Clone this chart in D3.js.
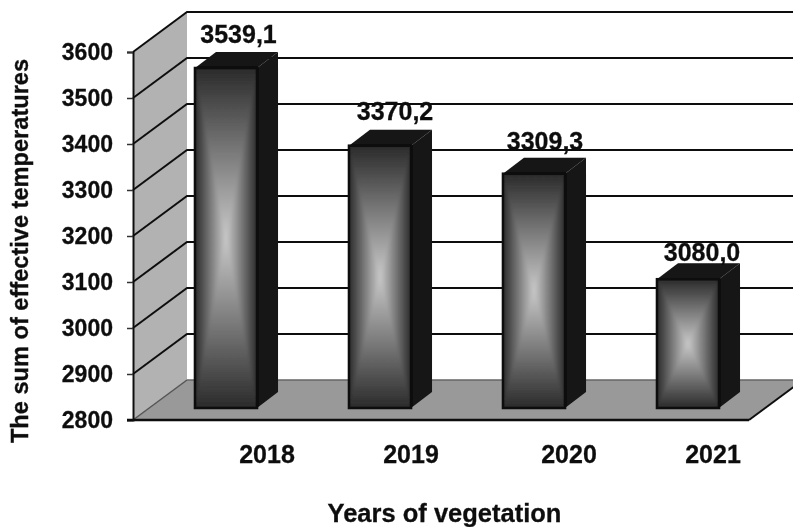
<!DOCTYPE html>
<html>
<head>
<meta charset="utf-8">
<script src="https://cdn.jsdelivr.net/npm/d3@7"></script>
<style>
  html, body { margin: 0; background: #fff; }
  text { font-family: "Liberation Sans", Arial, sans-serif; font-weight: bold; fill: #111; stroke: #111; stroke-width: 0.3px; }
</style>
</head>
<body>
<div id="chart"></div>
<script>
const years = ['2018', '2019', '2020', '2021'];
const temps = [3539.1, 3370.2, 3309.3, 3080.0];
const valueLabels = ['3539,1', '3370,2', '3309,3', '3080,0'];
const yTicks = [2800, 2900, 3000, 3100, 3200, 3300, 3400, 3500, 3600];

const width = 793;
const height = 527;
const wallDx = 54, wallDy = -40;   // depth of the 3d box
const barDx = 16, barDy = -12;     // bars stand this far back from the front edge
const sideDx = 21, sideDy = -16;   // depth of one bar
const labelNudge = [57, 47, 51, 41]; // year labels are not centred on bars in the original
const valueNudgeX = [12.5, 15, 11, 14];
const valueLift = [9, 10, 8, 2];

const x = d3.scaleBand().domain(years).range([133, 749]).paddingInner(0.597).paddingOuter(0.2985);
const y = d3.scaleLinear().domain([2800, 3600]).range([420, 52]);

const svg = d3.select('#chart').append('svg')
  .attr('width', width)
  .attr('height', height)
  .style('display', 'block');

const defs = svg.append('defs');
defs.append('filter').attr('id', 'soft')
  .append('feGaussianBlur').attr('stdDeviation', 0.45);
defs.append('filter').attr('id', 'faceBlur')
  .attr('x', '-20%').attr('y', '-20%').attr('width', '140%').attr('height', '140%')
  .append('feGaussianBlur').attr('stdDeviation', 1.6);

// one gradient per direction, dark edge to light middle
[['gT', 0, 0, 0, 1], ['gB', 0, 1, 0, 0], ['gL', 0, 0, 1, 0], ['gR', 1, 0, 0, 0]].forEach(g => {
  const lg = defs.append('linearGradient').attr('id', g[0])
    .attr('x1', g[1]).attr('y1', g[2]).attr('x2', g[3]).attr('y2', g[4]);
  lg.append('stop').attr('offset', 0).attr('stop-color', '#2a2a2a');
  lg.append('stop').attr('offset', 0.5).attr('stop-color', '#7a7a7a');
  lg.append('stop').attr('offset', 1).attr('stop-color', '#c8c8c8');
});

const root = svg.append('g').attr('filter', 'url(#soft)');

const poly = pts => pts.map(p => p.join(',')).join(' ');

// side wall
root.append('polygon')
  .attr('points', poly([[x.range()[0], y(2800)], [x.range()[0] + wallDx, y(2800) + wallDy],
    [x.range()[0] + wallDx, y(3600) + wallDy], [x.range()[0], y(3600)]]))
  .attr('fill', '#b2b2b2');

// floor
root.append('polygon')
  .attr('points', poly([[x.range()[0], y(2800)], [x.range()[1], y(2800)],
    [x.range()[1] + wallDx, y(2800) + wallDy], [x.range()[0] + wallDx, y(2800) + wallDy]]))
  .attr('fill', '#999999');

// grid lines running along the wall and the back
root.selectAll('.grid')
  .data(yTicks.slice(1))
  .enter()
  .append('polyline')
  .attr('class', 'grid')
  .attr('points', d => poly([[x.range()[0], y(d)], [x.range()[0] + wallDx, y(d) + wallDy],
    [x.range()[1] + wallDx, y(d) + wallDy]]))
  .attr('fill', 'none')
  .attr('stroke', '#111')
  .attr('stroke-width', 2);

// floor edges
root.append('polyline')
  .attr('points', poly([[x.range()[0], y(2800)], [x.range()[0] + wallDx, y(2800) + wallDy]]))
  .attr('fill', 'none').attr('stroke', '#555').attr('stroke-width', 1.5);
root.append('polyline')
  .attr('points', poly([[x.range()[0] + wallDx, y(2800) + wallDy], [x.range()[1] + wallDx, y(2800) + wallDy]]))
  .attr('fill', 'none').attr('stroke', '#666').attr('stroke-width', 1.5);
root.append('polyline')
  .attr('points', poly([[x.range()[1], y(2800)], [x.range()[1] + wallDx, y(2800) + wallDy]]))
  .attr('fill', 'none').attr('stroke', '#111').attr('stroke-width', 2);

// y axis
const yAxis = root.append('g')
  .attr('transform', `translate(${x.range()[0]},0)`)
  .call(d3.axisLeft(y).tickValues(yTicks).tickSize(6).tickPadding(14).tickFormat(d3.format('d')));
yAxis.select('.domain').attr('stroke', '#111').attr('stroke-width', 2);
yAxis.selectAll('line').attr('stroke', '#333').attr('stroke-width', 1.5);
yAxis.selectAll('text').style('font-size', '23px');

// x axis
const xAxis = root.append('g')
  .attr('transform', `translate(0,${y(2800)})`)
  .call(d3.axisBottom(x).tickSize(0).tickPadding(25));
xAxis.select('.domain').remove();
xAxis.selectAll('line').remove();
xAxis.selectAll('text')
  .attr('dx', (d, i) => labelNudge[i])
  .style('font-size', '25px');
root.append('line')
  .attr('x1', x.range()[0] - 6).attr('x2', x.range()[1])
  .attr('y1', y(2800)).attr('y2', y(2800))
  .attr('stroke', '#111').attr('stroke-width', 2.5);

// bars
root.selectAll('.bar')
  .data(years)
  .enter()
  .append('g')
  .attr('class', 'bar')
  .each(function (d, i) {
    const g = d3.select(this);
    const l = x(d) + barDx;
    const r = l + x.bandwidth();
    const t = y(temps[i]) + barDy;
    const b = y(2800) + barDy;
    const mx = (l + r) / 2;
    const my = (t + b) / 2;

    // right side and top of the box
    g.append('polygon')
      .attr('points', poly([[r, t], [r + sideDx, t + sideDy], [r + sideDx, b + sideDy], [r, b]]))
      .attr('fill', '#161616');
    g.append('polygon')
      .attr('points', poly([[l, t], [l + sideDx, t + sideDy], [r + sideDx, t + sideDy], [r, t]]))
      .attr('fill', '#141414');

    // front face, four triangles meeting at the middle, blurred so no seams show
    defs.append('clipPath').attr('id', 'face' + i)
      .append('rect').attr('x', l).attr('y', t).attr('width', x.bandwidth()).attr('height', b - t);
    g.append('rect')
      .attr('x', l).attr('y', t)
      .attr('width', x.bandwidth()).attr('height', b - t)
      .attr('fill', '#262626');
    const face = g.append('g').attr('clip-path', `url(#face${i})`)
      .append('g').attr('filter', 'url(#faceBlur)');
    [['gT', [[l, t], [r, t], [mx, my]]], ['gB', [[l, b], [r, b], [mx, my]]],
     ['gL', [[l, t], [l, b], [mx, my]]], ['gR', [[r, t], [r, b], [mx, my]]]].forEach(tri => {
      face.append('polygon')
        .attr('points', poly(tri[1]))
        .attr('fill', `url(#${tri[0]})`)
        .attr('stroke', `url(#${tri[0]})`)
        .attr('stroke-width', 1);
    });
    g.append('rect')
      .attr('x', l).attr('y', t)
      .attr('width', x.bandwidth()).attr('height', b - t)
      .attr('fill', 'none').attr('stroke', '#0a0a0a').attr('stroke-width', 2.5);
  });

// value labels
root.selectAll('.val')
  .data(valueLabels)
  .enter()
  .append('text')
  .attr('class', 'val')
  .attr('x', (d, i) => x(years[i]) + barDx + x.bandwidth() / 2 + valueNudgeX[i])
  .attr('y', (d, i) => y(temps[i]) + barDy + sideDy - valueLift[i])
  .attr('text-anchor', 'middle')
  .style('font-size', '25px')
  .text(d => d);

// axis titles
root.append('text')
  .attr('x', 444.5).attr('y', 522)
  .attr('text-anchor', 'middle')
  .style('font-size', '25.5px')
  .text('Years of vegetation');
root.append('text')
  .attr('transform', 'translate(28,251) rotate(-90)')
  .attr('text-anchor', 'middle')
  .style('font-size', '23.6px')
  .text('The sum of effective temperatures');
</script>
</body>
</html>
